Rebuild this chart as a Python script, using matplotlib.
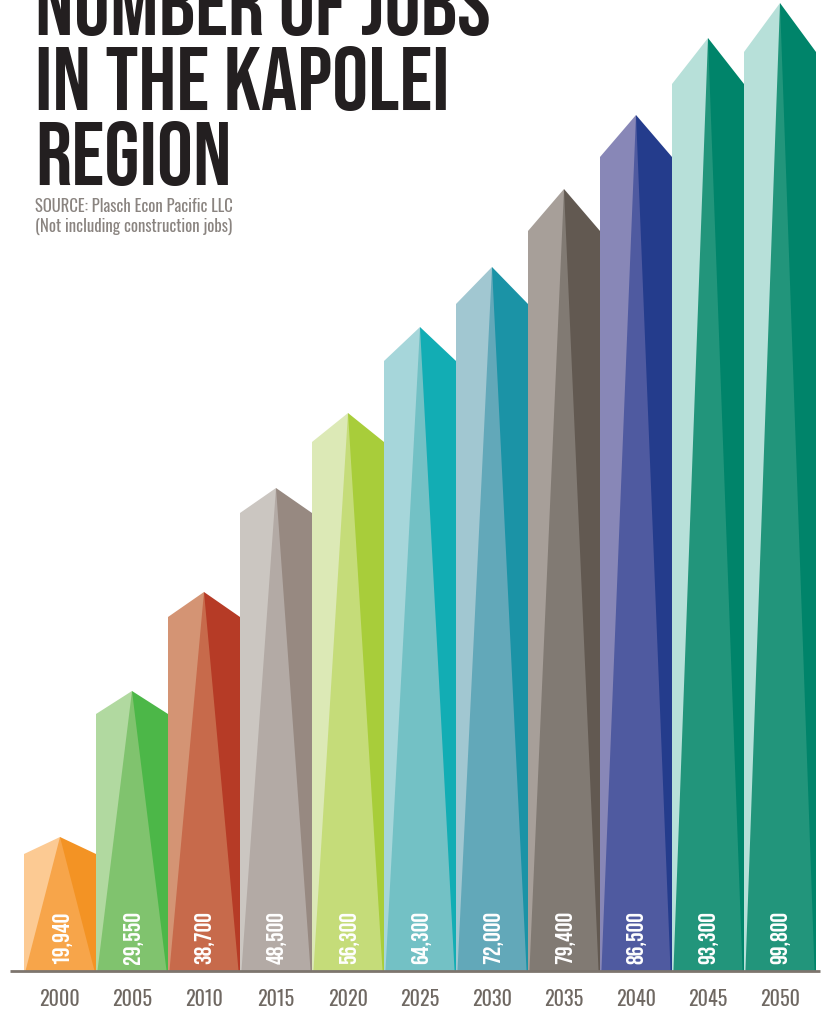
import matplotlib
matplotlib.use("Agg")
import matplotlib.pyplot as plt
from matplotlib.patches import Polygon

# data
years = ["2000", "2005", "2010", "2015", "2020", "2025", "2030", "2035", "2040", "2045", "2050"]
jobs = [19940, 29550, 38700, 48500, 56300, 64300, 72000, 79400, 86500, 93300, 99800]
# drawn heights of each column (the infographic is not to scale)
peak = [134, 280, 379, 483, 558, 644, 704, 782, 856, 933, 968]
shoulder = [117, 257, 354, 458, 529, 610, 667, 740, 814, 887, 919]

light = ["#fcca93", "#b1d9a0", "#d49474", "#cbc6c1", "#dce9b6", "#a6d6da",
         "#a1c7d1", "#a79f99", "#8887b7", "#b7e0d9", "#b7e0d9"]
mid = ["#f7a54a", "#80c36e", "#c76a4b", "#b3aaa5", "#c5dc79", "#73c1c5",
       "#62a8b9", "#817a73", "#4f5aa0", "#22957b", "#22957b"]
dark = ["#f39324", "#4cb748", "#b63b26", "#978981", "#a8cd3a", "#12adb4",
        "#1b93a6", "#625951", "#243c8c", "#00846a", "#00846a"]

TITLE_FONT = ["Bebas Neue", "Oswald", "Liberation Sans Narrow", "DejaVu Sans"]
COND_FONT = ["Oswald", "Roboto Condensed", "Liberation Sans Narrow", "DejaVu Sans"]

W, H = 823, 1012
fig = plt.figure(figsize=(W / 100, H / 100), dpi=100)
ax = fig.add_axes([24 / W, 40 / H, 792 / W, 972 / H])
ax.set_xlim(-0.5, 10.5)
ax.set_ylim(0, 972)
ax.axis("off")

half = 0.5
inset = 0.02
for i in range(len(years)):
    x0, x1 = i - half, i + half
    top, sh = peak[i], shoulder[i]
    ax.add_patch(Polygon([(x0, 0), (x0, sh), (i, top), (i, 0)], closed=True,
                         facecolor=light[i], edgecolor="none"))
    ax.add_patch(Polygon([(i, 0), (i, top), (x1, sh), (x1, 0)], closed=True,
                         facecolor=dark[i], edgecolor="none"))
    ax.add_patch(Polygon([(x0 + inset, 0), (i, top), (x1 - inset, 0)], closed=True,
                         facecolor=mid[i], edgecolor="none"))
    ax.text(i + 0.01, 8, f"{jobs[i]:,}", rotation=90, rotation_mode="anchor",
            ha="left", va="center", color="white", fontsize=17.5,
            family=TITLE_FONT)
    ax.text(i, -34, years[i], ha="center", va="baseline", color="#6f6862",
            fontsize=14.5, fontweight="light", family=COND_FONT, clip_on=False)

# baseline
ax.plot([-0.69, 10.56], [0, 0], color="#7d756e", lw=2, clip_on=False,
        solid_capstyle="butt")

# title block
for k, line in enumerate(["NUMBER OF JOBS", "IN THE KAPOLEI", "REGION"]):
    fig.text(35 / W, 1 - (35 + 75 * k) / H, line, ha="left", va="baseline",
             fontsize=65, color="#231f20", family=TITLE_FONT)
fig.text(35 / W, 1 - 212 / H, "SOURCE: Plasch Econ Pacific LLC", ha="left",
         va="baseline", fontsize=12, fontweight="light", color="#8a8480", family=COND_FONT)
fig.text(35 / W, 1 - 232 / H, "(Not including construction jobs)", ha="left",
         va="baseline", fontsize=12, fontweight="light", color="#8a8480", family=COND_FONT)

fig.savefig("out.png", dpi=100)
